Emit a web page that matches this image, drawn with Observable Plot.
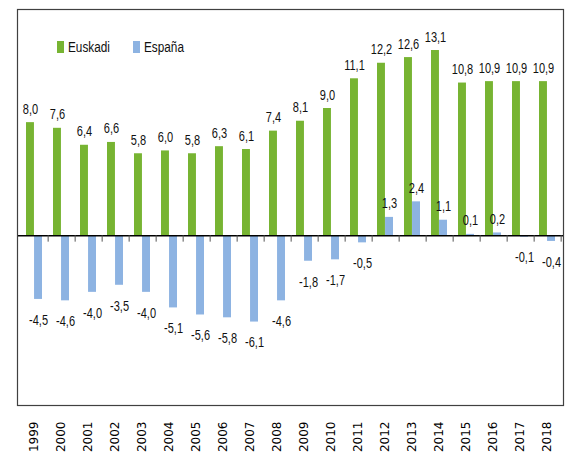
<!DOCTYPE html>
<html>
<head>
<meta charset="utf-8">
<script src="https://cdn.jsdelivr.net/npm/d3@7"></script>
<script src="https://cdn.jsdelivr.net/npm/@observablehq/plot@0.6"></script>
<style>
  html, body { margin: 0; padding: 0; background: #fff; }
  #wrap { position: relative; width: 565px; height: 460px; }
  .item { position: absolute; top: 38px; display: flex; align-items: center;
    font-family: "Liberation Sans", Arial, sans-serif; font-size: 15.5px; color: #111; }
  .sw { display: inline-block; width: 7px; height: 12px; margin-right: 4px; }
  .lbl { display: inline-block; transform: scaleX(0.76); transform-origin: left center; }
</style>
</head>
<body>
<div id="wrap">
  <div id="chart"></div>
  <div id="legend"></div>
</div>
<script>
const years = ["1999","2000","2001","2002","2003","2004","2005","2006","2007","2008","2009","2010","2011","2012","2013","2014","2015","2016","2017","2018"];
const euskadi = [8.0, 7.6, 6.4, 6.6, 5.8, 6.0, 5.8, 6.3, 6.1, 7.4, 8.1, 9.0, 11.1, 12.2, 12.6, 13.1, 10.8, 10.9, 10.9, 10.9];
const espana = [-4.5, -4.6, -4.0, -3.5, -4.0, -5.1, -5.6, -5.8, -6.1, -4.6, -1.8, -1.7, -0.5, 1.3, 2.4, 1.1, 0.1, 0.2, -0.1, -0.4];
const seriesNames = ["Euskadi", "España"];
const colors = ["#77B432", "#8DB3E2"];

const rows = years.map((y, i) => ({year: y, eus: euskadi[i], esp: espana[i]}));
const fmt = v => v.toFixed(1).replace(".", ",");

const W = 565, H = 460;
const mL = 17, mR = 2, mT = 9, mB = 55;
const step = (W - mL - mR) / years.length;
const half = step * 0.59 / 2;
const labelFont = '"Liberation Sans", Arial, sans-serif';
const lblStyle = {fontSize: 14.5, fontFamily: labelFont, fill: "#111", className: "vlabel"};

const chart = Plot.plot({
  width: W, height: H,
  marginLeft: mL, marginRight: mR, marginTop: mT, marginBottom: mB,
  style: {background: "#fff", overflow: "visible"},
  x: {domain: years, paddingInner: 0.41, paddingOuter: 0.205, label: null},
  y: {domain: [-12, 16], axis: null},
  marks: [
    Plot.barY(rows, {x: "year", y: "eus", fill: colors[0], insetRight: half}),
    Plot.barY(rows, {x: "year", y: "esp", fill: colors[1], insetLeft: half}),
    Plot.ruleY([0], {stroke: "#000", strokeWidth: 1.5}),
    Plot.ruleX(years, {x: d => d, y1: 0, y2: -0.45, dx: step / 2, stroke: "#555"}),
    Plot.frame({stroke: "#404040", strokeWidth: 1.2}),
    Plot.text(rows, {x: "year", y: "eus", text: d => fmt(d.eus), dx: -half / 2, dy: -9,
      lineAnchor: "bottom", ...lblStyle}),
    Plot.text(rows.filter(d => d.esp >= 0), {x: "year", y: "esp", text: d => fmt(d.esp), dx: half / 2, dy: -9,
      lineAnchor: "bottom", ...lblStyle}),
    Plot.text(rows.filter(d => d.esp < 0), {x: "year", y: "esp", text: d => fmt(d.esp), dx: half / 2, dy: 15,
      lineAnchor: "top", ...lblStyle}),
    Plot.axisX({tickRotate: -90, tickSize: 0, tickPadding: 16, fontSize: 12,
      fontFamily: "DejaVu Sans, sans-serif", fill: "#000", label: null})
  ]
});
document.getElementById("chart").appendChild(chart);

// narrow (Calibri-like) value labels
chart.querySelectorAll("g.vlabel text, g[class*='vlabel'] text").forEach(t => {
  const len = t.getComputedTextLength();
  t.setAttribute("textLength", (len * 0.76).toFixed(2));
  t.setAttribute("lengthAdjust", "spacingAndGlyphs");
});

const lg = document.getElementById("legend");
const lgLeft = [57, 133];
seriesNames.forEach((n, i) => {
  const it = document.createElement("span");
  it.className = "item";
  it.style.left = lgLeft[i] + "px";
  const sw = document.createElement("span");
  sw.className = "sw";
  sw.style.background = colors[i];
  const tx = document.createElement("span");
  tx.className = "lbl";
  tx.textContent = n;
  it.appendChild(sw);
  it.appendChild(tx);
  lg.appendChild(it);
});
</script>
</body>
</html>
